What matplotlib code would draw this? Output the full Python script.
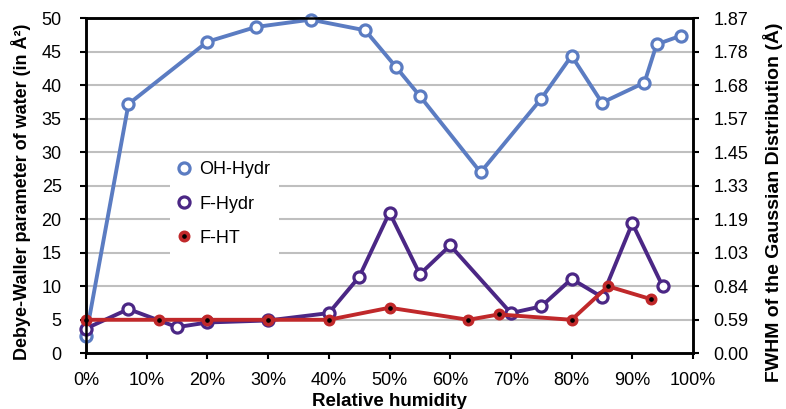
import matplotlib.pyplot as plt
from matplotlib.lines import Line2D

plt.rcParams['font.family'] = ['Liberation Sans', 'DejaVu Sans']

# relative humidity (%) and Debye-Waller values
oh_x = [0, 7, 20, 28, 37, 46, 51, 55, 65, 75, 80, 85, 92, 94, 98]
oh_y = [2.6, 37.2, 46.5, 48.7, 49.8, 48.2, 42.8, 38.4, 27.0, 38.0, 44.4, 37.4, 40.4, 46.1, 47.4]

fh_x = [0, 7, 15, 20, 30, 40, 45, 50, 55, 60, 70, 75, 80, 85, 90, 95]
fh_y = [3.7, 6.6, 3.9, 4.6, 4.9, 6.0, 11.4, 21.0, 11.8, 16.1, 6.0, 7.0, 11.1, 8.4, 19.4, 10.0]

ht_x = [0, 12, 20, 30, 40, 50, 63, 68, 80, 86, 93]
ht_y = [5.0, 5.0, 5.0, 5.0, 5.0, 6.8, 5.0, 5.8, 5.0, 10.0, 8.1]

left_ticks = list(range(0, 51, 5))
right_labels = ['0.00', '0.59', '0.84', '1.03', '1.19', '1.33', '1.45', '1.57', '1.68', '1.78', '1.87']
x_ticks = list(range(0, 101, 10))

blue = '#5b7cc2'
purple = '#4b2785'
red = '#c0282a'

fig = plt.figure(figsize=(7.86, 4.09), dpi=100)
ax = fig.add_axes([0.1094, 0.1362, 0.7723, 0.8191])

for y in left_ticks[1:-1]:
    ax.axhline(y, color='#bfbfbf', lw=1.5, zorder=0)

ax.plot(oh_x, oh_y, color=blue, lw=2.8, marker='o', ms=8, mfc='white', mec=blue, mew=2.3, zorder=3, clip_on=False)
ax.plot(fh_x, fh_y, color=purple, lw=2.8, marker='o', ms=8, mfc='white', mec=purple, mew=2.3, zorder=4, clip_on=False)
ax.plot(ht_x, ht_y, color=red, lw=2.8, marker='o', ms=6, mfc='black', mec=red, mew=2.6, zorder=5, clip_on=False)

ax.set_xlim(0, 100)
ax.set_ylim(0, 50)
ax.set_xticks(x_ticks)
ax.set_xticklabels([f'{v}%' for v in x_ticks])
ax.set_yticks(left_ticks)
ax.tick_params(labelsize=13, width=1.5, length=4.5, colors='black')
ax.tick_params(axis='y', pad=13)
ax.tick_params(axis='x', pad=9)
for s in ax.spines.values():
    s.set_linewidth(1.8)

ax.set_xlabel('Relative humidity', fontsize=13.5, fontweight='bold')
ax.xaxis.set_label_coords(0.5, -0.12)
ax.set_ylabel('Debye-Waller parameter of water (in Å²)', fontsize=13, fontweight='bold')
ax.yaxis.set_label_coords(-0.09, 0.482)

ax2 = ax.twinx()
ax2.set_ylim(0, 50)
ax2.set_yticks(left_ticks)
ax2.set_yticklabels(right_labels)
ax2.tick_params(labelsize=13, width=1.5, length=4.5, pad=10)
for s in ax2.spines.values():
    s.set_linewidth(1.8)
ax2.set_ylabel('FWHM of the Gaussian Distribution (Å)', fontsize=14, fontweight='bold', rotation=90)
ax2.yaxis.set_label_coords(1.116, 0.452)

handles = [
    Line2D([], [], ls='none', marker='o', ms=8, mfc='white', mec=blue, mew=2.3),
    Line2D([], [], ls='none', marker='o', ms=8, mfc='white', mec=purple, mew=2.3),
    Line2D([], [], ls='none', marker='o', ms=6, mfc='black', mec=red, mew=2.6),
]
leg = ax.legend(handles, ['OH-Hydr', 'F-Hydr', 'F-HT'], loc='upper left',
                bbox_to_anchor=(0.138, 0.597), frameon=True, fancybox=False,
                fontsize=13, handlelength=0.7, handletextpad=0.5,
                labelspacing=0.95, borderpad=0.45, borderaxespad=0)
leg.get_frame().set_facecolor('white')
leg.get_frame().set_edgecolor('none')
leg.get_frame().set_alpha(1)
leg.set_zorder(6)

fig.savefig('out.png', dpi=100)
